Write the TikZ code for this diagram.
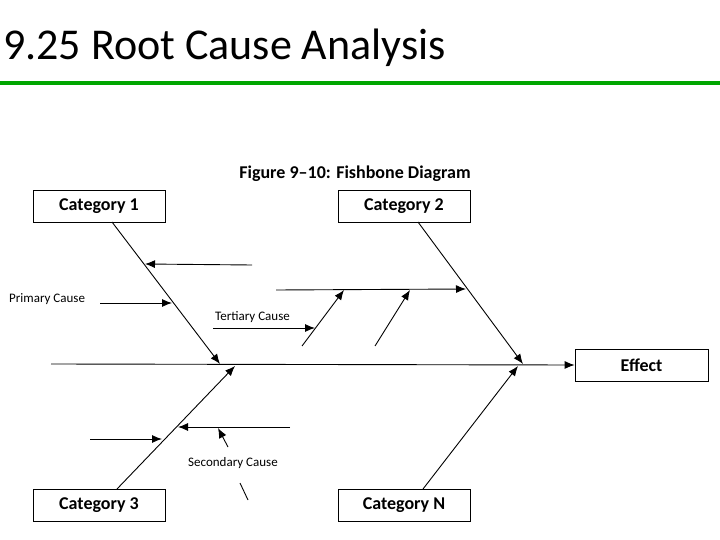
\documentclass[tikz,border=0pt]{standalone}
\usepackage{fontspec}
\setmainfont{Carlito}
\usetikzlibrary{arrows.meta}
\begin{document}
\begin{tikzpicture}[x=1pt,y=-1pt,
  box/.style={draw, thick, minimum width=132pt, minimum height=32pt, inner sep=0pt, font=\bfseries\fontsize{18}{18}\selectfont},
  arr/.style={-{Latex[length=10pt,width=8pt]}, line width=0.9pt},
  lbl/.style={font=\fontsize{13}{13}\selectfont, inner sep=0pt}]
\useasboundingbox (0,0) rectangle (720,540);
%title
\node[anchor=base west, inner sep=0pt, font=\fontsize{44}{44}\selectfont] (title) at (3,60) {9.25 Root Cause Analysis};
\fill[green!65!black] (0,81) rectangle (720,85);
\node[font=\bfseries\fontsize{18}{18}\selectfont] (fig) at (355,174) {Figure 9--10: Fishbone Diagram};
%boxes
\node[box] (c1) at (99,206) {Category 1};
\node[box] (c2) at (404,206) {Category 2};
\node[box] (c3) at (99,505) {Category 3};
\node[box] (cn) at (404,505) {Category N};
\node[box, minimum width=133pt] (eff) at (641.5,365) {Effect};
%spine and bones
\coordinate (s0) at (51,364);
\coordinate (j1) at (220,364);
\coordinate (j2) at (523,364);
\coordinate (j3) at (235,366);
\coordinate (jn) at (518,366);
\draw[arr] (s0) -- (eff.west);
\draw[arr] (112,222) -- (j1);
\draw[arr] (418,222) -- (j2);
\draw[arr] (117,489) -- (j3);
\draw[arr] (423,489) -- (jn);
%category 1 causes
\coordinate (a1) at (252,265); \coordinate (a1e) at (145,264);
\draw[arr] (a1) -- (a1e);
\node[lbl, anchor=west] (pc) at (9,299) {Primary Cause};
\coordinate (p0) at (100,303); \coordinate (p1) at (172,303);
\draw[arr] (p0) -- (p1);
%category 2 causes
\coordinate (h0) at (276,290); \coordinate (h1) at (466,289);
\draw[arr] (h0) -- (h1);
\coordinate (t0) at (302,346); \coordinate (t1) at (344,290);
\coordinate (u0) at (375,346); \coordinate (u1) at (410,290);
\draw[arr] (t0) -- (t1);
\draw[arr] (u0) -- (u1);
\node[lbl, anchor=west] (tc) at (215,317) {Tertiary Cause};
\coordinate (tc0) at (213,328); \coordinate (tc1) at (315,328);
\draw[arr] (tc0) -- (tc1);
%category 3 causes
\coordinate (b0) at (90,439); \coordinate (b1) at (162,439);
\draw[arr] (b0) -- (b1);
\coordinate (d0) at (290,427); \coordinate (d1) at (178,427);
\draw[arr] (d0) -- (d1);
\node[lbl] (sc) at (233,463) {Secondary Cause};
\coordinate (e0) at (228,447); \coordinate (e1) at (218,428);
\draw[arr] (e0) -- (e1);
\coordinate (k0) at (240,483); \coordinate (k1) at (248,500);
\draw[line width=0.9pt] (k0) -- (k1);
\end{tikzpicture}
\end{document}
